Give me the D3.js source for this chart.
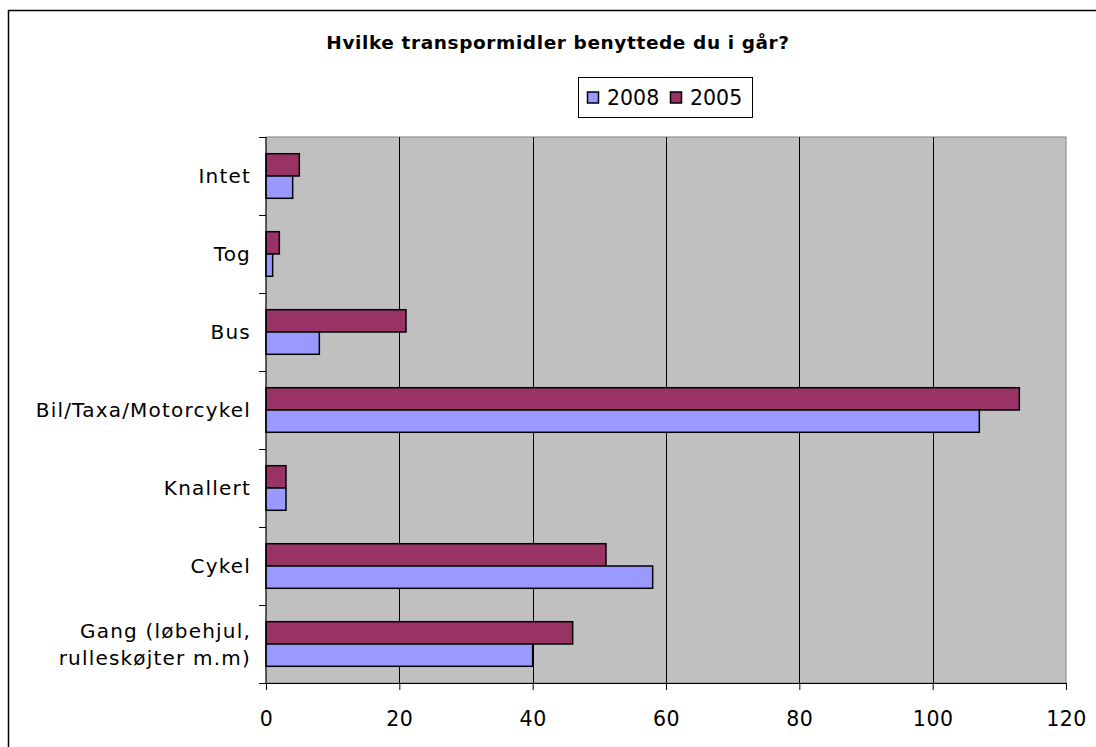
<!DOCTYPE html>
<html>
<head>
<meta charset="utf-8">
<script src="https://cdn.jsdelivr.net/npm/d3@7"></script>
<style>
  body { margin: 0; background: #fff; }
  svg text { font-family: "DejaVu Sans", Verdana, sans-serif; fill: #000; }
</style>
</head>
<body>
<div id="chart"></div>
<script>
// Data
const title = "Hvilke transpormidler benyttede du i går?";
const categories = ["Intet", "Tog", "Bus", "Bil/Taxa/Motorcykel", "Knallert", "Cykel", "Gang (løbehjul,\nrulleskøjter m.m)"];
const seriesNames = ["2008", "2005"];
const values2008 = [4, 1, 8, 107, 3, 58, 40];
const values2005 = [5, 2, 21, 113, 3, 51, 46];
const xTicks = [0, 20, 40, 60, 80, 100, 120];
const colors = { "2008": "#9999ff", "2005": "#993366" };

const width = 1096, height = 747;
const plot = { left: 266, top: 137, right: 1066, bottom: 683 };

const svg = d3.select("#chart").append("svg")
    .attr("width", width)
    .attr("height", height);

// outer chart border (right and bottom edges fall outside the picture)
svg.append("rect")
    .attr("x", 8.5).attr("y", 10.5)
    .attr("width", 1100).attr("height", 760)
    .attr("fill", "#fff")
    .attr("stroke", "#000")
    .attr("stroke-width", 1.5);

const x = d3.scaleLinear().domain([0, 120]).range([plot.left, plot.right]);
const y = d3.scaleBand().domain(categories).range([plot.top, plot.bottom]);
const inner = d3.scaleBand().domain(["2005", "2008"])
    .range([0, y.bandwidth()])
    .paddingOuter(0.75).paddingInner(0);

// plot background
svg.append("rect")
    .attr("x", plot.left).attr("y", plot.top)
    .attr("width", plot.right - plot.left)
    .attr("height", plot.bottom - plot.top)
    .attr("fill", "#c0c0c0")
    .attr("stroke", "#808080")
    .attr("stroke-width", 1);

// gridlines
svg.append("g")
    .selectAll("line")
    .data(xTicks.filter(d => d > 0 && d < 120))
    .join("line")
    .attr("x1", d => Math.round(x(d)) + 0.5)
    .attr("x2", d => Math.round(x(d)) + 0.5)
    .attr("y1", plot.top)
    .attr("y2", plot.bottom)
    .attr("stroke", "#000")
    .attr("stroke-width", 1);

// bars
const rows = categories.map((c, i) => ({ cat: c, "2008": values2008[i], "2005": values2005[i] }));
const groups = svg.append("g")
    .selectAll("g")
    .data(rows)
    .join("g")
    .attr("transform", d => `translate(0,${y(d.cat)})`);

groups.selectAll("rect")
    .data(d => ["2005", "2008"].map(k => ({ key: k, value: d[k] })))
    .join("rect")
    .attr("x", x(0))
    .attr("y", d => inner(d.key))
    .attr("width", d => x(d.value) - x(0))
    .attr("height", inner.bandwidth())
    .attr("fill", d => colors[d.key])
    .attr("stroke", "#000")
    .attr("stroke-width", 1.5);

// x axis
const xAxis = svg.append("g")
    .attr("transform", `translate(0,${plot.bottom})`)
    .call(d3.axisBottom(x).tickValues(xTicks).tickSize(7).tickPadding(21));
xAxis.select(".domain").attr("stroke", "#000");
xAxis.selectAll("text")
    .style("font-size", "20.5px")
    .style("letter-spacing", "0.5px")
    .style("font-family", "\"DejaVu Sans\", Verdana, sans-serif");

// y axis (ticks at category boundaries)
const yAxisG = svg.append("g");
yAxisG.append("line")
    .attr("x1", plot.left).attr("x2", plot.left)
    .attr("y1", plot.top).attr("y2", plot.bottom)
    .attr("stroke", "#000");
yAxisG.selectAll("line.tick")
    .data(d3.range(categories.length + 1))
    .join("line")
    .attr("class", "tick")
    .attr("x1", plot.left - 7).attr("x2", plot.left)
    .attr("y1", i => Math.round(plot.top + i * y.step()) + 0.5)
    .attr("y2", i => Math.round(plot.top + i * y.step()) + 0.5)
    .attr("stroke", "#000");

yAxisG.selectAll("text")
    .data(categories)
    .join("text")
    .attr("text-anchor", "end")
    .attr("x", 251)
    .attr("y", d => y(d) + y.bandwidth() / 2)
    .style("font-size", "20px")
    .style("letter-spacing", "1.2px")
    .each(function(d) {
        const lines = d.split("\n");
        const t = d3.select(this);
        lines.forEach((ln, i) => {
            t.append("tspan")
                .attr("x", 251)
                .attr("dy", i === 0 ? (0.35 - (lines.length - 1) * 0.65) + "em" : "1.35em")
                .text(ln);
        });
    });

// title
svg.append("text")
    .attr("x", 558)
    .attr("y", 49)
    .attr("text-anchor", "middle")
    .style("font-size", "18.5px")
    .style("letter-spacing", "0.6px")
    .style("font-weight", "bold")
    .text(title);

// legend
const legend = svg.append("g").attr("transform", "translate(578,77)");
legend.append("rect")
    .attr("x", 0.5).attr("y", 0.5)
    .attr("width", 174).attr("height", 40)
    .attr("fill", "#fff")
    .attr("stroke", "#000");
const legendX = [9, 92];
seriesNames.forEach((s, i) => {
    legend.append("rect")
        .attr("x", legendX[i] + 0.5).attr("y", 15)
        .attr("width", 11).attr("height", 11)
        .attr("fill", colors[s])
        .attr("stroke", "#000")
        .attr("stroke-width", 1.5);
    legend.append("text")
        .attr("x", legendX[i] + 20)
        .attr("y", 28)
        .style("font-size", "20.5px")
        .text(s);
});
</script>
</body>
</html>
